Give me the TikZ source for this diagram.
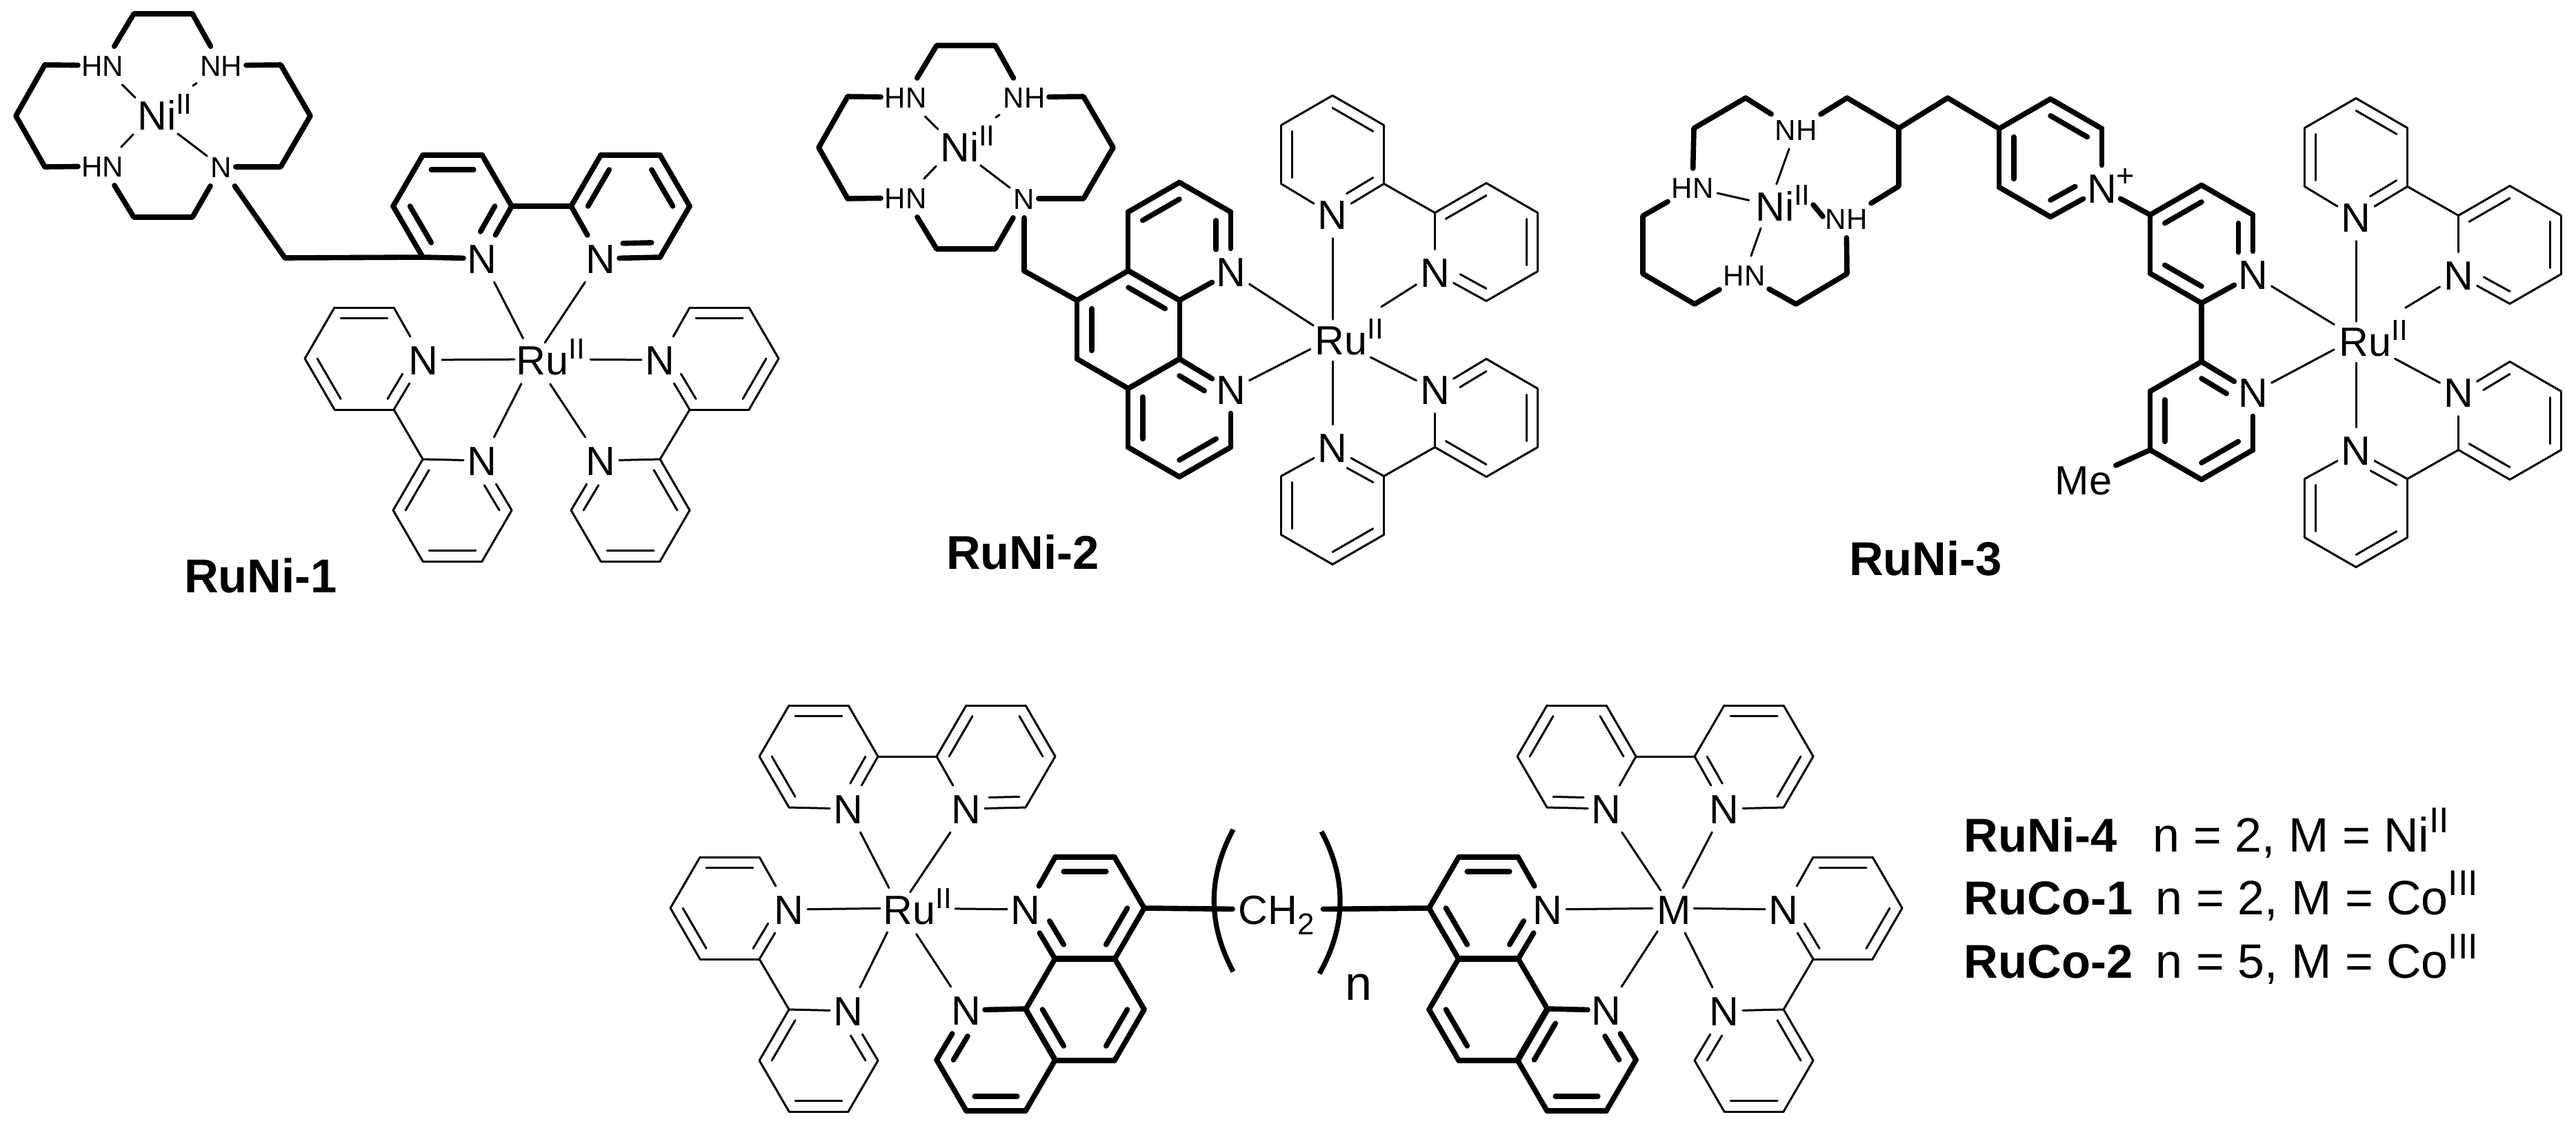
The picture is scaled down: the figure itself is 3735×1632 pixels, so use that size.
\documentclass[tikz,border=0pt]{standalone}
\usepackage{fontspec}
\usepackage{graphicx}
\setmainfont{Liberation Sans}
\usetikzlibrary{calc}

\newcommand\flathex{1/86/0, 2/43/74, 3/-43/74, 4/-86/0, 5/-43/-74, 6/43/-74}
\newcommand\pointhex{1/0/-85.5, 2/74.5/-42.5, 3/74.5/42.5, 4/0/85.5, 5/-74.5/42.5, 6/-74.5/-42.5}

\tikzset{
	thinbond/.style = {line width = 0.75pt, line cap = round, line join = round},
	boldbond/.style = {line width = 1.9pt, line cap = round, line join = round},
	parenline/.style = {line width = 1.8pt},
	atom/.style = {font = \fontsize{14.8pt}{16pt}\selectfont, inner xsep = 1.2pt, inner ysep = 3pt, text height = 10.6pt, text depth = 0pt},
	smallatom/.style = {atom, font = \fontsize{10.5pt}{12pt}\selectfont, text height = 7.5pt},
	metalatom/.style = {atom, inner sep = 0pt},
	molname/.style = {font = \fontsize{17.2pt}{20pt}\selectfont\bfseries, inner sep = 0pt},
	plaintext/.style = {font = \fontsize{17.5pt}{20pt}\selectfont, inner sep = 0pt}
}

\newcommand\ox[2][.71]{\raisebox{.39em}{\scalebox{#1}{#2}}}

% style, name, hexagon, centre, vertex with N, inner lines
\newcommand\pyring[6]{%
	\begin{scope}[shift = {(#4)}]
		\foreach \vtx/\dx/\dy in #3 {
			\ifnum\vtx=#5 \node[atom] (#2\vtx) at (\dx,\dy+2) {N};
			\else \coordinate (#2\vtx) at (\dx,\dy); \fi
		}
	\end{scope}
	\foreach \vtx in {1,...,6} {
		\pgfmathtruncatemacro\nxt{mod(\vtx,6)+1}
		\draw[#1] (#2\vtx) -- (#2\nxt);
	}
	\foreach \vtx in {#6} {
		\pgfmathtruncatemacro\nxt{mod(\vtx,6)+1}
		\ifnum\vtx=#5 \def\gapa{\ngap}\else\def\gapa{0pt}\fi
		\ifnum\nxt=#5 \def\gapb{\ngap}\else\def\gapb{0pt}\fi
		\draw[#1, shorten <=\gapa, shorten >=\gapb] ($(#2\vtx.center)!\innerf!(#4)$) -- ($(#2\nxt.center)!\innerf!(#4)$);
	}
}
\newcommand\thinring[5]{\def\innerf{.21}\def\ngap{6pt}\pyring{thinbond}{#1}{#2}{#3}{#4}{#5}}
\newcommand\boldring[5]{\def\innerf{.285}\def\ngap{5pt}\pyring{boldbond}{#1}{#2}{#3}{#4}{#5}}

% name, x, y, offset of the text, text
\newcommand\metal[5]{%
	\coordinate (#1) at (#2,#3);
	\node[metalatom, anchor = west] (#1t) at ($(#1)+(#4)$) {#5};
}
\newcommand\ligate[2]{%
	\foreach \atm/\gap in {#2} {
		\draw[thinbond, shorten >=\gap*0.25pt] (\atm) -- (#1);
	}
}

% the ring of RuNi-1 and RuNi-2
\newcommand\cyclam[3]{%
	\begin{scope}[shift = {(#2,#3)}]
		\node[smallatom] (#1hna) at (149,95) {HN};
		\node[smallatom] (#1nh) at (321,95) {NH};
		\node[smallatom] (#1hnb) at (149,241) {HN};
		\node[smallatom] (#1n) at (321,242) {N};
		\foreach \vtx/\x/\y in {a/194/20, b/279/20, c/65/94, d/23/168, e/65/242, f/194/315, g/279/315, h/407/242, i/450/168, j/407/94} {
			\coordinate (#1c\vtx) at (\x,\y);
		}
		\draw[boldbond] (#1hna) -- (#1cc) -- (#1cd) -- (#1ce) -- (#1hnb) -- (#1cf) -- (#1cg) -- (#1n) -- (#1ch) -- (#1ci) -- (#1cj) -- (#1nh) -- (#1cb) -- (#1ca) -- (#1hna);
		\metal{#1ni}{221}{166}{-22.5,1}{Ni\ox{II}}
		\ligate{#1ni}{#1hna/35, #1nh/72, #1hnb/40, #1n/46}
	\end{scope}
}

\begin{document}
\begin{tikzpicture}[yscale = -1, x = 0.25pt, y = 0.25pt]
	\useasboundingbox (0,0) rectangle (3735,1632);

	% RuNi-1
	\cyclam{a}{0}{0}
	\boldring{ra}{\flathex}{656,299}{2}{1,3,5}
	\boldring{rb}{\flathex}{914,299}{3}{2,4,6}
	\thinring{rc}{\flathex}{528,520}{1}{1,3,5}
	\thinring{rd}{\flathex}{656,740}{6}{2,4,6}
	\thinring{re}{\flathex}{914,740}{5}{2,4,6}
	\thinring{rf}{\flathex}{1043,520}{4}{1,3,5}
	\coordinate (alink) at (413,374);
	\draw[boldbond] (an) -- (alink) -- (ra3);
	\draw[boldbond] (ra1) -- (rb4);
	\draw[thinbond] (rc2) -- (rd5);
	\draw[thinbond] (re6) -- (rf3);
	\metal{ruone}{774}{521}{-26,1}{Ru\ox{II}}
	\ligate{ruone}{ra2/34, rb3/29, rc1/28, rd6/40, re5/43, rf4/82}
	\node[molname] (runione) at (378,835) {RuNi-1};

	% RuNi-2
	\cyclam{b}{1164}{46}
	\boldring{pa}{\pointhex}{1710,350}{3}{2,6}
	\boldring{pb}{\pointhex}{1636,478}{0}{1,5}
	\boldring{pc}{\pointhex}{1710,606}{2}{1,3,5}
	\thinring{qa}{\pointhex}{1932,224}{4}{1,3,5}
	\thinring{qb}{\pointhex}{2155,351}{5}{2,4,6}
	\thinring{qc}{\pointhex}{2155,606}{6}{2,4,6}
	\thinring{qd}{\pointhex}{1932,733}{1}{1,3,5}
	\coordinate (blink) at (1485,393);
	\draw[boldbond] (bn) -- (blink) -- (pb6);
	\draw[thinbond] (qa3) -- (qb6);
	\draw[thinbond] (qc5) -- (qd2);
	\metal{rutwo}{1932}{490}{-26,3}{Ru\ox{II}}
	\ligate{rutwo}{pa3/33, pc2/36, qa4/27, qd1/34, qb5/84, qc6/62}
	\node[molname] (runitwo) at (1483,801) {RuNi-2};

	% RuNi-3
	\node[smallatom] (nhc) at (2604,188) {NH};
	\node[smallatom] (nhd) at (2677,317) {NH};
	\node[smallatom] (hnc) at (2454,272) {HN};
	\node[smallatom] (hnd) at (2529,399) {HN};
	\foreach \vtx/\x/\y in {a/2531/142, b/2456/186, c/2678/142, d/2753/186, e/2824/142, f/2753/270, g/2382/313, h/2382/397, i/2457/441, j/2604/441, k/2678/397} {
		\coordinate (c\vtx) at (\x,\y);
	}
	\boldring{sa}{\pointhex}{2973,229}{3}{1,3,5}
	\boldring{sb}{\pointhex}{3192,354}{3}{2,4,6}
	\boldring{sc}{\pointhex}{3192,610}{2}{1,3,5}
	\thinring{ta}{\pointhex}{3416,228}{4}{1,3,5}
	\thinring{tb}{\pointhex}{3639,355}{5}{2,4,6}
	\thinring{tc}{\pointhex}{3639,610}{6}{2,4,6}
	\thinring{td}{\pointhex}{3416,737}{1}{1,3,5}
	\draw[boldbond] (nhc) -- (ca) -- (cb) -- (hnc) -- (cg) -- (ch) -- (ci) -- (hnd) -- (cj) -- (ck) -- (nhd) -- (cf) -- (cd) -- (cc) -- (nhc);
	\draw[boldbond] (cd) -- (ce) -- (sa6);
	\draw[boldbond] (sa3) -- (sb6);
	\draw[boldbond] (sb4) -- (sc1);
	\draw[thinbond] (ta3) -- (tb6);
	\draw[thinbond] (tc5) -- (td2);
	\node[atom] (me) at (3021,696) {Me};
	\draw[boldbond] (sc5) -- (me);
	\node[inner sep = 0pt, font = \fontsize{11.3pt}{13pt}\selectfont] (plus) at (3082,257) {+};
	\metal{nic}{2565}{297}{-20.5,2}{Ni\ox{II}}
	\ligate{nic}{nhc/32, hnc/30, hnd/36}
	\coordinate (stuba) at (2629,297);
	\coordinate (stubb) at (2643,314);
	\draw[boldbond] (stuba) -- (stubb);
	\metal{ruthree}{3416}{490}{-25,5}{Ru\ox{II}}
	\ligate{ruthree}{sb3/37, sc2/36, ta4/24, td1/36, tb5/84, tc6/64}
	\node[molname] (runithree) at (2792,810) {RuNi-3};

	% dinuclear complexes
	\thinring{ua}{\flathex}{1187,1097}{2}{1,3,5}
	\thinring{ub}{\flathex}{1444,1097}{3}{2,4,6}
	\thinring{uc}{\flathex}{1058,1317}{1}{1,3,5}
	\thinring{ud}{\flathex}{1187,1538}{6}{2,4,6}
	\boldring{va}{\flathex}{1573,1317}{4}{1,3,5}
	\boldring{vb}{\flathex}{1573,1464}{0}{1,3}
	\boldring{vc}{\flathex}{1444,1537}{5}{2,4}
	\draw[thinbond] (ua1) -- (ub4);
	\draw[thinbond] (uc2) -- (ud5);
	\metal{rufour}{1304}{1317}{-24,2}{Ru\ox{II}}
	\ligate{rufour}{ua2/33, ub3/28, uc1/28, ud6/39, vc5/45, va4/81}

	\boldring{wa}{\flathex}{2158,1317}{1}{1,3,5}
	\boldring{wb}{\flathex}{2158,1464}{0}{3}
	\boldring{wc}{\flathex}{2286,1537}{6}{2,4,6}
	\thinring{xa}{\flathex}{2286,1097}{2}{2,4,6}
	\thinring{xb}{\flathex}{2543,1097}{3}{1,3,5}
	\thinring{xc}{\flathex}{2672,1317}{4}{1,3,5}
	\thinring{xd}{\flathex}{2543,1538}{5}{2,4,6}
	\draw[thinbond] (xa1) -- (xb4);
	\draw[thinbond] (xc3) -- (xd6);
	\metal{mfour}{2425}{1317}{-23.5,2}{M}
	\ligate{mfour}{xa2/31, xb3/33, wa1/29, xc4/31, wc6/40, xd5/40}

	% Linker
	\node[atom, anchor = west, inner xsep = 1pt] (ch) at (1791,1319) {CH\raisebox{-.25em}{\scalebox{.74}{2}}};
	\draw[boldbond, shorten >=1pt] (va1) -- (ch);
	\draw[boldbond, shorten <=2pt] (ch) -- (wa4);
	\coordinate (pla) at (1788,1203);
	\coordinate (plb) at (1751,1272);
	\coordinate (plc) at (1751,1340);
	\coordinate (pld) at (1788,1409);
	\coordinate (pra) at (1916,1206);
	\coordinate (prb) at (1953,1275);
	\coordinate (prc) at (1952,1343);
	\coordinate (prd) at (1913,1412);
	\draw[parenline] (pla) .. controls (plb) and (plc) .. (pld);
	\draw[parenline] (pra) .. controls (prb) and (prc) .. (prd);
	\node[plaintext, anchor = base] (nrep) at (1970,1450) {n};

	% Legende
	\foreach \id/\y/\nm/\xv/\val in {
		a/1235/RuNi-4/3121/{n = 2, M = Ni\ox[.74]{II}},
		b/1326/RuCo-1/3125/{n = 2, M = Co\ox[.74]{III}},
		c/1418/RuCo-2/3125/{n = 5, M = Co\ox[.74]{III}}
	} {
		\node[molname, anchor = base west] (name\id) at (2847,\y) {\nm};
		\node[plaintext, anchor = base west] (val\id) at (\xv,\y) {\val};
	}
\end{tikzpicture}
\end{document}
